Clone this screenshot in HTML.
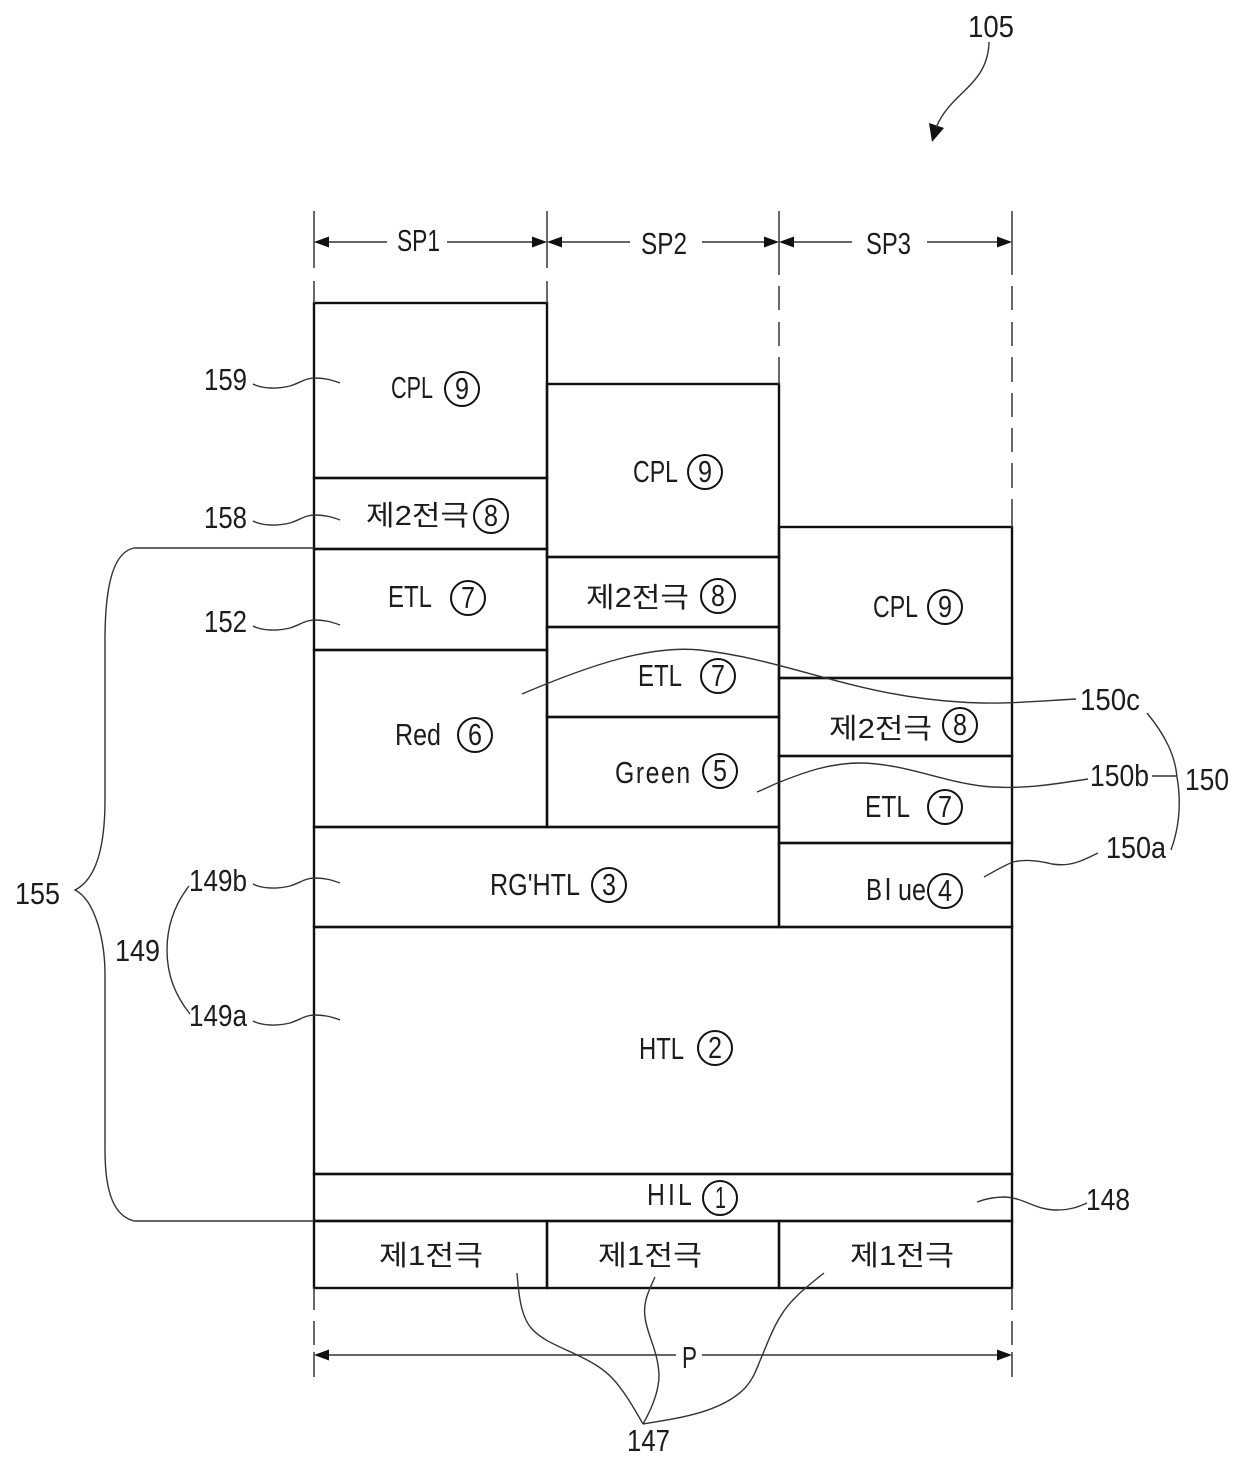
<!DOCTYPE html>
<html><head><meta charset="utf-8"><style>
html,body{margin:0;padding:0;background:#fff}
svg{display:block}
text{font-family:"Liberation Sans","Noto Sans CJK KR",sans-serif;font-size:31px;fill:#1c1c1c}
text.k{font-size:28px}
.l{fill:none;stroke:#111;stroke-width:2.4}
.t{fill:none;stroke:#333;stroke-width:1.4}
.d{fill:none;stroke:#444;stroke-width:1.6}
circle{fill:none;stroke:#111;stroke-width:2}
</style></head><body>
<svg width="1240" height="1479" viewBox="0 0 1240 1479" xmlns="http://www.w3.org/2000/svg">
<rect width="1240" height="1479" fill="#fff"/>
<!-- boxes -->
<g class="l">
<rect x="314" y="303" width="233" height="175"/>
<rect x="314" y="478" width="233" height="71"/>
<rect x="314" y="549" width="233" height="101"/>
<rect x="314" y="650" width="233" height="177"/>
<rect x="547" y="384" width="232" height="173"/>
<rect x="547" y="557" width="232" height="70"/>
<rect x="547" y="627" width="232" height="90"/>
<rect x="547" y="717" width="232" height="110"/>
<rect x="779" y="527" width="233" height="151"/>
<rect x="779" y="678" width="233" height="78"/>
<rect x="779" y="756" width="233" height="87"/>
<rect x="779" y="843" width="233" height="84"/>
<rect x="314" y="827" width="465" height="100"/>
<rect x="314" y="927" width="698" height="247"/>
<rect x="314" y="1174" width="698" height="47"/>
<rect x="314" y="1221" width="233" height="67"/>
<rect x="547" y="1221" width="232" height="67"/>
<rect x="779" y="1221" width="233" height="67"/>
</g>
<!-- dashed guides -->
<path class="d" d="M314 211V268M314 281V303M547 211V268M547 281V303M779 211V275M779 286V310M779 322V346M779 357V384M1012 211V275M1012 286V310M1012 322V346M1012 357V382M1012 393V417M1012 428V452M1012 463V488M1012 499V527M314 1288V1310M314 1321V1345M314 1352V1377M1012 1288V1310M1012 1321V1345M1012 1352V1377"/>
<!-- dimension lines -->
<path class="t" d="M316 242H387M447 242H545M549 242H630M702 242H777M781 242H852M927 242H1010M316 1355H676M702 1355H1010"/>
<g fill="#111">
<path d="M314 242l15-5.500v11zM547 242l-15-5.500v11zM547 242l15-5.500v11zM779 242l-15-5.500v11zM779 242l15-5.500v11zM1012 242l-15-5.500v11zM314 1355l15-5.500v11zM1012 1355l-15-5.500v11z"/>
<path d="M932 142l-3-19 15 5z"/>
</g>
<!-- leaders -->
<g class="t">
<path d="M989 42C988 86 950 92 936 128"/>
<path d="M253 384c9 5 25 5 37 2c10-3 15-8 25-8c10 0 17 2 25 5"/>
<path d="M253 521c9 5 25 5 37 2c10-3 15-8 25-8c10 0 17 2 25 5"/>
<path d="M253 626c9 5 25 5 37 2c10-3 15-8 25-8c10 0 17 2 25 5"/>
<path d="M253 884c9 5 25 5 37 2c10-3 15-8 25-8c10 0 17 2 25 5"/>
<path d="M253 1021c9 5 25 5 37 2c10-3 15-8 25-8c10 0 17 2 25 5"/>
<path d="M522 694C590 665 650 645 700 650C790 660 850 695 960 702C1000 705 1040 701 1076 699"/>
<path d="M757 792C765 789 772 785 780 782C805 772 830 763 860 763C905 763 950 785 993 787C1030 789 1060 783 1088 779"/>
<path d="M984 877C995 871 1003 866 1013 862C1025 859 1040 861 1052 864C1070 867 1082 861 1098 853"/>
<path d="M1152 776H1177"/>
<path d="M1147 713C1165 735 1175 755 1177 777C1181 800 1180 825 1171 850"/>
<path d="M977 1202C985 1199 995 1197 1005 1197C1025 1198 1035 1210 1057 1210C1070 1210 1078 1207 1087 1203"/>
<path d="M517 1273C519 1300 522 1318 532 1329C542 1340 558 1346 573 1353C590 1361 603 1368 613 1379C625 1392 635 1410 643 1424"/>
<path d="M655 1277C648 1292 643 1303 645 1317C647 1335 658 1350 659 1375C659 1392 651 1410 643 1424"/>
<path d="M824 1273C805 1288 790 1300 780 1317C772 1330 768 1342 762 1356C756 1370 754 1378 745 1388C722 1412 680 1418 643 1424"/>
<path d="M134 548H314M134 1221H314M134 548C115 552 105 580 105 640V800C105 850 95 880 75 890C95 900 105 940 105 975V1150C105 1195 115 1216 134 1221"/>
<path d="M189 886C172 908 167 930 167 950C167 975 175 995 190 1014"/>
</g>
<!-- labels -->
<text x="968" y="37" textLength="46" lengthAdjust="spacingAndGlyphs">105</text>
<text x="397" y="251" textLength="43" lengthAdjust="spacingAndGlyphs">SP1</text>
<text x="641" y="254" textLength="46" lengthAdjust="spacingAndGlyphs">SP2</text>
<text x="866" y="254" textLength="45" lengthAdjust="spacingAndGlyphs">SP3</text>
<text x="204" y="390" textLength="43" lengthAdjust="spacingAndGlyphs">159</text>
<text x="204" y="528" textLength="43" lengthAdjust="spacingAndGlyphs">158</text>
<text x="204" y="632" textLength="43" lengthAdjust="spacingAndGlyphs">152</text>
<text x="189" y="891" textLength="58" lengthAdjust="spacingAndGlyphs">149b</text>
<text x="189" y="1026" textLength="58" lengthAdjust="spacingAndGlyphs">149a</text>
<text x="115" y="961" textLength="45" lengthAdjust="spacingAndGlyphs">149</text>
<text x="15" y="904" textLength="45" lengthAdjust="spacingAndGlyphs">155</text>
<text x="1080" y="710" textLength="60" lengthAdjust="spacingAndGlyphs">150c</text>
<text x="1090" y="786" textLength="59" lengthAdjust="spacingAndGlyphs">150b</text>
<text x="1185" y="790" textLength="44" lengthAdjust="spacingAndGlyphs">150</text>
<text x="1106" y="858" textLength="60" lengthAdjust="spacingAndGlyphs">150a</text>
<text x="1086" y="1210" textLength="44" lengthAdjust="spacingAndGlyphs">148</text>
<text x="682" y="1368" textLength="15" lengthAdjust="spacingAndGlyphs">P</text>
<text x="627" y="1451" textLength="43" lengthAdjust="spacingAndGlyphs">147</text>

<text x="391" y="398" textLength="42" lengthAdjust="spacingAndGlyphs">CPL</text>
<text x="633" y="482" textLength="45" lengthAdjust="spacingAndGlyphs">CPL</text>
<text x="873" y="617" textLength="45" lengthAdjust="spacingAndGlyphs">CPL</text>
<text class="k" x="366" y="525" textLength="103" lengthAdjust="spacingAndGlyphs">제2전극</text>
<text class="k" x="586" y="607" textLength="103" lengthAdjust="spacingAndGlyphs">제2전극</text>
<text class="k" x="829" y="738" textLength="103" lengthAdjust="spacingAndGlyphs">제2전극</text>
<text x="388" y="607" textLength="44" lengthAdjust="spacingAndGlyphs">ETL</text>
<text x="638" y="686" textLength="44" lengthAdjust="spacingAndGlyphs">ETL</text>
<text x="865" y="817" textLength="45" lengthAdjust="spacingAndGlyphs">ETL</text>
<text x="395" y="745" textLength="46" lengthAdjust="spacingAndGlyphs">Red</text>
<text transform="translate(615 783) scale(.8 1)" textLength="94" lengthAdjust="spacing">Green</text>
<text x="866" y="900" textLength="16" lengthAdjust="spacingAndGlyphs">B</text>
<text x="885" y="900" textLength="6" lengthAdjust="spacingAndGlyphs">l</text>
<text x="898" y="900" textLength="28" lengthAdjust="spacingAndGlyphs">ue</text>
<text x="490" y="895" textLength="90" lengthAdjust="spacingAndGlyphs">RG'HTL</text>
<text x="639" y="1059" textLength="45" lengthAdjust="spacingAndGlyphs">HTL</text>
<text transform="translate(647 1205) scale(.8 1)" textLength="56" lengthAdjust="spacing">HIL</text>
<text class="k" x="379" y="1265" textLength="104" lengthAdjust="spacingAndGlyphs">제1전극</text>
<text class="k" x="598" y="1265" textLength="104" lengthAdjust="spacingAndGlyphs">제1전극</text>
<text class="k" x="850" y="1265" textLength="104" lengthAdjust="spacingAndGlyphs">제1전극</text>

<!-- circled numbers -->
<g>
<circle cx="462" cy="389" r="17"/><text x="455" y="399" textLength="14" lengthAdjust="spacingAndGlyphs">9</text>
<circle cx="705" cy="472" r="17"/><text x="698" y="482" textLength="14" lengthAdjust="spacingAndGlyphs">9</text>
<circle cx="945" cy="607" r="17"/><text x="938" y="617" textLength="14" lengthAdjust="spacingAndGlyphs">9</text>
<circle cx="491" cy="516" r="17"/><text x="484" y="526" textLength="14" lengthAdjust="spacingAndGlyphs">8</text>
<circle cx="718" cy="596" r="17"/><text x="711" y="606" textLength="14" lengthAdjust="spacingAndGlyphs">8</text>
<circle cx="960" cy="725" r="17"/><text x="953" y="735" textLength="14" lengthAdjust="spacingAndGlyphs">8</text>
<circle cx="468" cy="598" r="17"/><text x="461" y="608" textLength="14" lengthAdjust="spacingAndGlyphs">7</text>
<circle cx="718" cy="676" r="17"/><text x="711" y="686" textLength="14" lengthAdjust="spacingAndGlyphs">7</text>
<circle cx="945" cy="807" r="17"/><text x="938" y="817" textLength="14" lengthAdjust="spacingAndGlyphs">7</text>
<circle cx="475" cy="735" r="17"/><text x="468" y="745" textLength="14" lengthAdjust="spacingAndGlyphs">6</text>
<circle cx="720" cy="771" r="17"/><text x="713" y="781" textLength="14" lengthAdjust="spacingAndGlyphs">5</text>
<circle cx="945" cy="891" r="17"/><text x="938" y="901" textLength="14" lengthAdjust="spacingAndGlyphs">4</text>
<circle cx="609" cy="885" r="17"/><text x="602" y="895" textLength="14" lengthAdjust="spacingAndGlyphs">3</text>
<circle cx="715" cy="1048" r="17"/><text x="708" y="1058" textLength="14" lengthAdjust="spacingAndGlyphs">2</text>
<circle cx="720" cy="1198" r="17"/><text x="715" y="1208" textLength="11" lengthAdjust="spacingAndGlyphs">1</text>
</g>
</svg>
</body></html>
